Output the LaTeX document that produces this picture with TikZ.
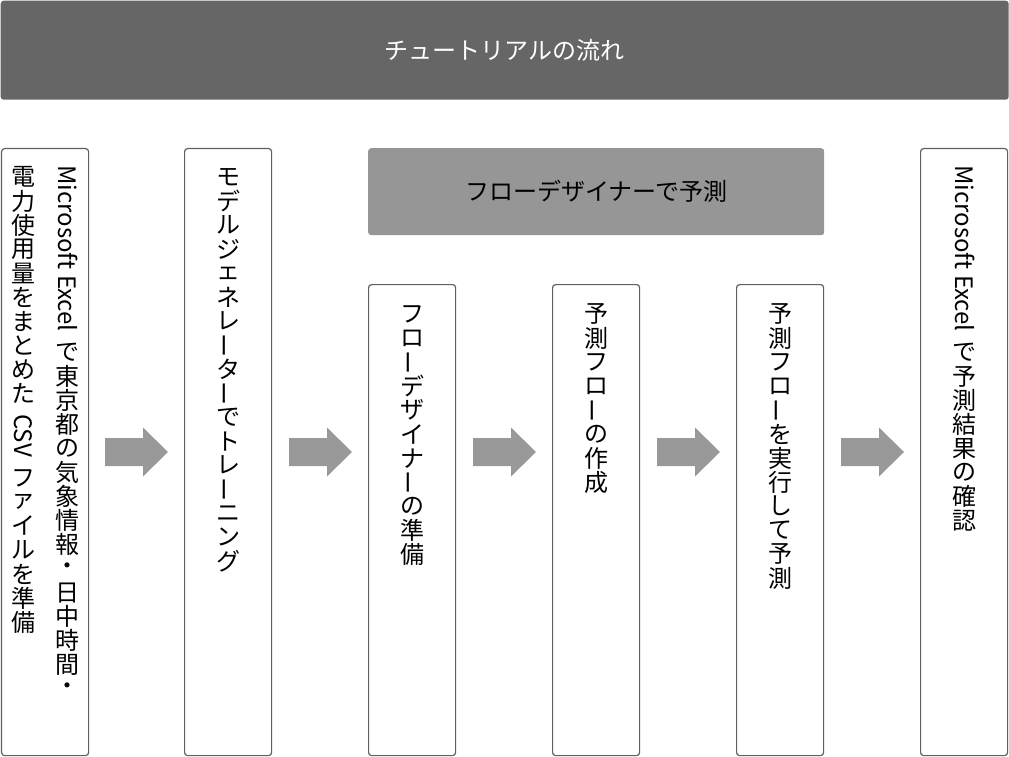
\documentclass[tikz,border=0pt]{standalone}
\usepackage{fontspec}
\setmainfont{Noto Sans CJK JP}
\usetikzlibrary{calc}
\definecolor{titlegray}{HTML}{666666}
\definecolor{headgray}{HTML}{969696}
\definecolor{arrowgray}{HTML}{999999}
\definecolor{bordergray}{HTML}{606060}
\makeatletter
\newcommand\vtcell[1]{\hbox to 0pt{\hss\vbox to 24pt{\vss\hbox{#1}\vss}\hss}}
\def\vt@end{\vt@end}
\def\vt@loop#1{\ifx#1\vt@end\else\vt@one{#1}\expandafter\vt@loop\fi}
\def\vt@one#1{\ifx#1ー\vtcell{\rotatebox[origin=c]{90}{ー}}\else\vtcell{#1}\fi}
\newcommand\vtext[1]{\vt@loop#1\vt@end}
\makeatother
\newcommand\vlatin[1]{\hbox to 0pt{\hss\rotatebox[origin=c]{-90}{\vphantom{国}#1}\hss}}
\newcommand\vgap{\kern9pt}
\newcommand\vcol[1]{\vbox{\fontsize{24}{24}\selectfont\offinterlineskip #1}}
\tikzset{
  stepbox/.style={draw=bordergray, line width=1.2pt, fill=white, rounded corners=3pt, inner sep=0pt, minimum width=87, anchor=north west},
  coltext/.style={anchor=north, inner sep=0pt},
  arrowfill/.style={fill=arrowgray},
  bigtext/.style={font=\fontsize{24}{28}\selectfont}
}
\newcommand\barrow[1]{\fill[arrowfill, shift={(#1)}] (-31.5,-14) -- (6.5,-14) -- (6.5,-24.5) -- (31.5,0) -- (6.5,24.5) -- (6.5,14) -- (-31.5,14) -- cycle;}
\begin{document}
\begin{tikzpicture}[x=1pt, y=-1pt]
\useasboundingbox (0,0) rectangle (1009,757);
% title bar
\node[fill=titlegray, rounded corners=3pt, minimum width=1008, minimum height=99, inner sep=0pt, anchor=north west, text=white, bigtext] (title) at (0.5,0.5) {チュートリアルの流れ};
% group header
\node[fill=headgray, rounded corners=3pt, minimum width=456, minimum height=87, inner sep=0pt, anchor=north west, bigtext] (group) at (368,148) {フローデザイナーで予測};
% boxes
\node[stepbox, minimum height=607] (b1) at (1,148) {};
\node[stepbox, minimum height=607] (b2) at (184,148) {};
\node[stepbox, minimum height=471] (b3) at (368,284) {};
\node[stepbox, minimum height=471] (b4) at (552,284) {};
\node[stepbox, minimum height=471] (b5) at (736,284) {};
\node[stepbox, minimum height=607] (b6) at (920,148) {};
% texts
\node[coltext] (t1r) at ($(b1.north)+(22,17)$) {\vcol{\vlatin{Microsoft Excel}\vgap\vtext{で東京都の気象情報・日中時間・}}};
\node[coltext] (t1l) at ($(b1.north)+(-22,17)$) {\vcol{\vtext{電力使用量をまとめた}\vgap\vlatin{CSV}\vgap\vtext{ファイルを準備}}};
\node[coltext] (t2) at ($(b2.north)+(0,17)$) {\vcol{\vtext{モデルジェネレーターでトレーニング}}};
\node[coltext] (t3) at ($(b3.north)+(0,18)$) {\vcol{\vtext{フローデザイナーの準備}}};
\node[coltext] (t4) at ($(b4.north)+(0,18)$) {\vcol{\vtext{予測フローの作成}}};
\node[coltext] (t5) at ($(b5.north)+(0,18)$) {\vcol{\vtext{予測フローを実行して予測}}};
\node[coltext] (t6) at ($(b6.north)+(0,17)$) {\vcol{\vlatin{Microsoft Excel}\vgap\vtext{で予測結果の確認}}};
% arrows
\coordinate (a1) at (136.5,452);
\coordinate (a2) at (320.5,452);
\coordinate (a3) at (504.5,452);
\coordinate (a4) at (688.5,452);
\coordinate (a5) at (872.5,452);
\barrow{a1}
\barrow{a2}
\barrow{a3}
\barrow{a4}
\barrow{a5}
\end{tikzpicture}
\end{document}
